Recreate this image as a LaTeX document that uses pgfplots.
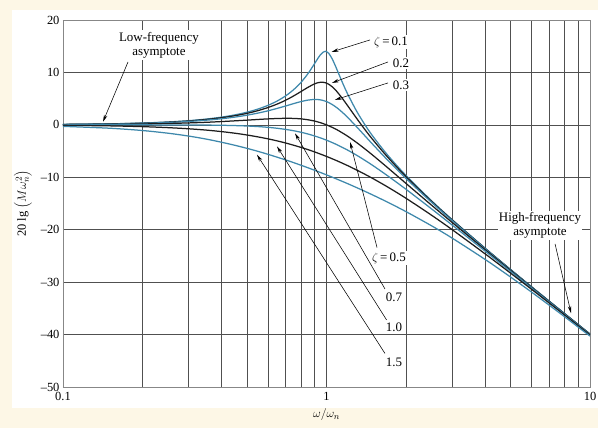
\documentclass[border=0pt]{standalone}
\usepackage{pgfplots}
\pgfplotsset{compat=1.18}
\usepackage{fontspec}
\setmainfont{Liberation Serif}
\usetikzlibrary{arrows.meta}
\definecolor{cream}{RGB}{253,247,230}
\definecolor{curveblue}{RGB}{62,136,172}
\definecolor{curveblack}{RGB}{30,30,30}
\definecolor{gridc}{RGB}{80,80,80}
\definecolor{framec}{RGB}{135,135,135}
\begin{document}
\begin{tikzpicture}
\useasboundingbox (-63bp,-41bp) rectangle (535bp,387bp);
\fill[cream] (-63bp,-41bp) rectangle (535bp,387bp);
\fill[white] (-51bp,-21bp) rectangle (535bp,377bp);
\begin{axis}[
  at={(0bp,0bp)}, anchor=south west,
  scale only axis, width=527bp, height=367bp,
  xmode=log, xmin=0.1, xmax=10, ymin=-50, ymax=20,
  xtick={0.1,1,10}, xticklabels={0.1,1,10},
  minor xtick={0.2,0.3,0.4,0.5,0.6,0.7,0.8,0.9,2,3,4,5,6,7,8,9},
  ytick={-50,-40,-30,-20,-10,0,10,20},
  yticklabels={--50,--40,--30,--20,--10,0,10,20},
  grid=both,
  major grid style={gridc, line width=0.6pt},
  minor grid style={gridc, line width=0.6pt},
  axis line style={framec, line width=0.9pt},
  tick style={draw=none},
  tick label style={font=\fontsize{12.5}{13}\selectfont},
  xticklabel style={yshift=-2pt},
  xlabel={$\omega/\omega_n$},
  ylabel={20 lg $\left(M\omega_n^2\right)$},
  xlabel style={font=\fontsize{12.5}{14}\selectfont, yshift=-1pt},
  ylabel style={font=\fontsize{12.5}{14}\selectfont, yshift=2pt},
  every axis plot/.append style={line width=1.25pt, smooth},
  clip=true,
]
% zeta = 0.1
\addplot[curveblue] coordinates {
(0.1,0.086)(0.15,0.194)(0.2,0.347)(0.25,0.548)(0.3,0.800)(0.35,1.107)(0.4,1.475)(0.45,1.910)(0.5,2.422)(0.55,3.022)(0.6,3.726)(0.65,4.554)(0.7,5.533)(0.75,6.698)(0.8,8.091)(0.85,9.751)(0.9,11.643)(0.93,12.770)(0.95,13.410)(0.97,13.859)(0.99,14.023)(1.0,13.979)(1.02,13.640)(1.05,12.628)(1.08,11.288)(1.1,10.339)(1.15,8.044)(1.2,6.000)(1.3,2.646)(1.4,0.000)(1.5,-2.181)(1.7,-5.668)(2,-9.619)(2.5,-14.442)(3,-18.086)(4,-23.534)(5,-27.612)(6,-30.886)(7,-33.629)(8,-35.990)(10,-39.915)};
% zeta = 0.2
\addplot[curveblack] coordinates {
(0.1,0.08)(0.15,0.18)(0.2,0.32)(0.25,0.51)(0.3,0.74)(0.35,1.03)(0.4,1.36)(0.45,1.75)(0.5,2.20)(0.55,2.72)(0.6,3.31)(0.65,3.97)(0.7,4.70)(0.75,5.51)(0.8,6.35)(0.85,7.15)(0.9,7.81)(0.93,8.05)(0.95,8.13)(0.97,8.12)(0.99,8.04)(1.0,7.96)(1.02,7.74)(1.05,7.28)(1.08,6.69)(1.1,6.24)(1.15,5.01)(1.2,3.73)(1.3,1.27)(1.4,-0.92)(1.5,-2.84)(1.7,-6.06)(2,-9.84)(2.5,-14.56)(3,-18.16)(4,-23.57)(5,-27.63)(6,-30.90)(7,-33.64)(8,-36.00)(10,-39.92)};
% zeta = 0.3
\addplot[curveblue] coordinates {
(0.1,0.07)(0.15,0.16)(0.2,0.29)(0.25,0.45)(0.3,0.65)(0.35,0.89)(0.4,1.17)(0.45,1.49)(0.5,1.85)(0.55,2.25)(0.6,2.68)(0.65,3.14)(0.7,3.60)(0.75,4.05)(0.8,4.44)(0.85,4.72)(0.9,4.85)(0.93,4.82)(0.95,4.76)(0.97,4.66)(1.0,4.44)(1.05,3.90)(1.1,3.19)(1.15,2.36)(1.2,1.48)(1.3,-0.35)(1.4,-2.11)(1.5,-3.75)(1.7,-6.64)(2,-10.19)(2.5,-14.74)(3,-18.28)(4,-23.63)(5,-27.67)(6,-30.93)(7,-33.66)(8,-36.01)(10,-39.93)};
% zeta = 0.5
\addplot[curveblack] coordinates {
(0.1,0.04)(0.15,0.10)(0.2,0.17)(0.25,0.26)(0.3,0.37)(0.35,0.49)(0.4,0.63)(0.45,0.77)(0.5,0.90)(0.55,1.03)(0.6,1.14)(0.65,1.21)(0.7,1.25)(0.75,1.23)(0.8,1.14)(0.85,0.97)(0.9,0.73)(0.95,0.40)(1.0,0.00)(1.05,-0.47)(1.1,-0.98)(1.2,-2.13)(1.3,-3.36)(1.4,-4.60)(1.5,-5.81)(1.7,-8.10)(2,-11.14)(2.5,-15.29)(3,-18.63)(4,-23.82)(5,-27.79)(6,-31.01)(7,-33.72)(8,-36.06)(10,-39.96)};
% zeta = 0.7
\addplot[curveblue] coordinates {
(0.1,0.00)(0.15,0.00)(0.2,0.00)(0.25,-0.01)(0.3,-0.02)(0.35,-0.04)(0.4,-0.08)(0.45,-0.14)(0.5,-0.22)(0.55,-0.33)(0.6,-0.47)(0.65,-0.65)(0.7,-0.87)(0.75,-1.12)(0.8,-1.41)(0.85,-1.74)(0.9,-2.11)(0.95,-2.50)(1.0,-2.92)(1.05,-3.37)(1.1,-3.83)(1.2,-4.79)(1.3,-5.78)(1.4,-6.78)(1.5,-7.76)(1.7,-9.66)(2,-12.26)(2.5,-16.00)(3,-19.12)(4,-24.09)(5,-27.96)(6,-31.12)(7,-33.80)(8,-36.12)(10,-40.00)};
% zeta = 1.0
\addplot[curveblack] coordinates {
(0.1,-0.09)(0.15,-0.19)(0.2,-0.34)(0.25,-0.53)(0.3,-0.75)(0.35,-1.00)(0.4,-1.29)(0.45,-1.60)(0.5,-1.94)(0.55,-2.30)(0.6,-2.67)(0.65,-3.06)(0.7,-3.46)(0.75,-3.88)(0.8,-4.30)(0.85,-4.72)(0.9,-5.15)(0.95,-5.59)(1.0,-6.02)(1.1,-6.89)(1.2,-7.75)(1.3,-8.60)(1.4,-9.43)(1.5,-10.24)(1.7,-11.80)(2,-13.98)(2.5,-17.21)(3,-20.00)(4,-24.61)(5,-28.30)(6,-31.36)(7,-33.98)(8,-36.26)(10,-40.09)};
% zeta = 1.5
\addplot[curveblue] coordinates {
(0.1,-0.29)(0.15,-0.64)(0.2,-1.08)(0.25,-1.59)(0.3,-2.14)(0.35,-2.72)(0.4,-3.32)(0.45,-3.91)(0.5,-4.49)(0.55,-5.06)(0.6,-5.62)(0.65,-6.17)(0.7,-6.69)(0.75,-7.20)(0.8,-7.70)(0.85,-8.18)(0.9,-8.65)(0.95,-9.10)(1.0,-9.54)(1.1,-10.39)(1.2,-11.19)(1.3,-11.96)(1.4,-12.69)(1.5,-13.39)(1.7,-14.71)(2,-16.53)(2.5,-19.23)(3,-21.61)(4,-25.67)(5,-29.04)(6,-31.90)(7,-34.39)(8,-36.58)(10,-40.29)};

% annotations
\tikzset{lab/.style={font=\fontsize{13}{14.5}\selectfont, fill=white, inner sep=1.5pt},
         arr/.style={-{Stealth[length=7pt,width=3.5pt]}, line width=0.55pt, black}}
\node[lab, align=center] at (axis cs:0.2313,15.2) {Low-frequency\\asymptote};
\draw[arr] (axis cs:0.1765,12.0) -- (axis cs:0.1419,0.6);

\node[lab] at (axis cs:1.757,15.83) {$\zeta$\,=\,0.1};
\node[lab] at (axis cs:1.918,11.83) {0.2};
\node[lab] at (axis cs:1.918,7.63) {0.3};
\draw[arr] (axis cs:1.463,16.2) -- (axis cs:1.045,13.9);
\draw[arr] (axis cs:1.712,12.0) -- (axis cs:1.049,8.0);
\draw[arr] (axis cs:1.712,8.0) -- (axis cs:1.077,4.77);

\node[lab] at (axis cs:1.726,-25.4) {$\zeta$\,=\,0.5};
\node[lab] at (axis cs:1.804,-32.8) {0.7};
\node[lab] at (axis cs:1.804,-38.7) {1.0};
\node[lab] at (axis cs:1.804,-45.2) {1.5};
\draw[arr] (axis cs:1.555,-23.4) -- (axis cs:1.228,-3.24);
\draw[arr] (axis cs:1.667,-31.3) -- (axis cs:0.7595,-1.6);
\draw[arr] (axis cs:1.69,-37.2) -- (axis cs:0.6487,-4.1);
\draw[arr] (axis cs:1.667,-43.6) -- (axis cs:0.5448,-5.7);

\node[lab, align=center] at (axis cs:6.46,-19.2) {High-frequency\\asymptote};
\draw[arr] (axis cs:7.37,-22.7) -- (axis cs:8.47,-35.9);
\end{axis}
\end{tikzpicture}
\end{document}
